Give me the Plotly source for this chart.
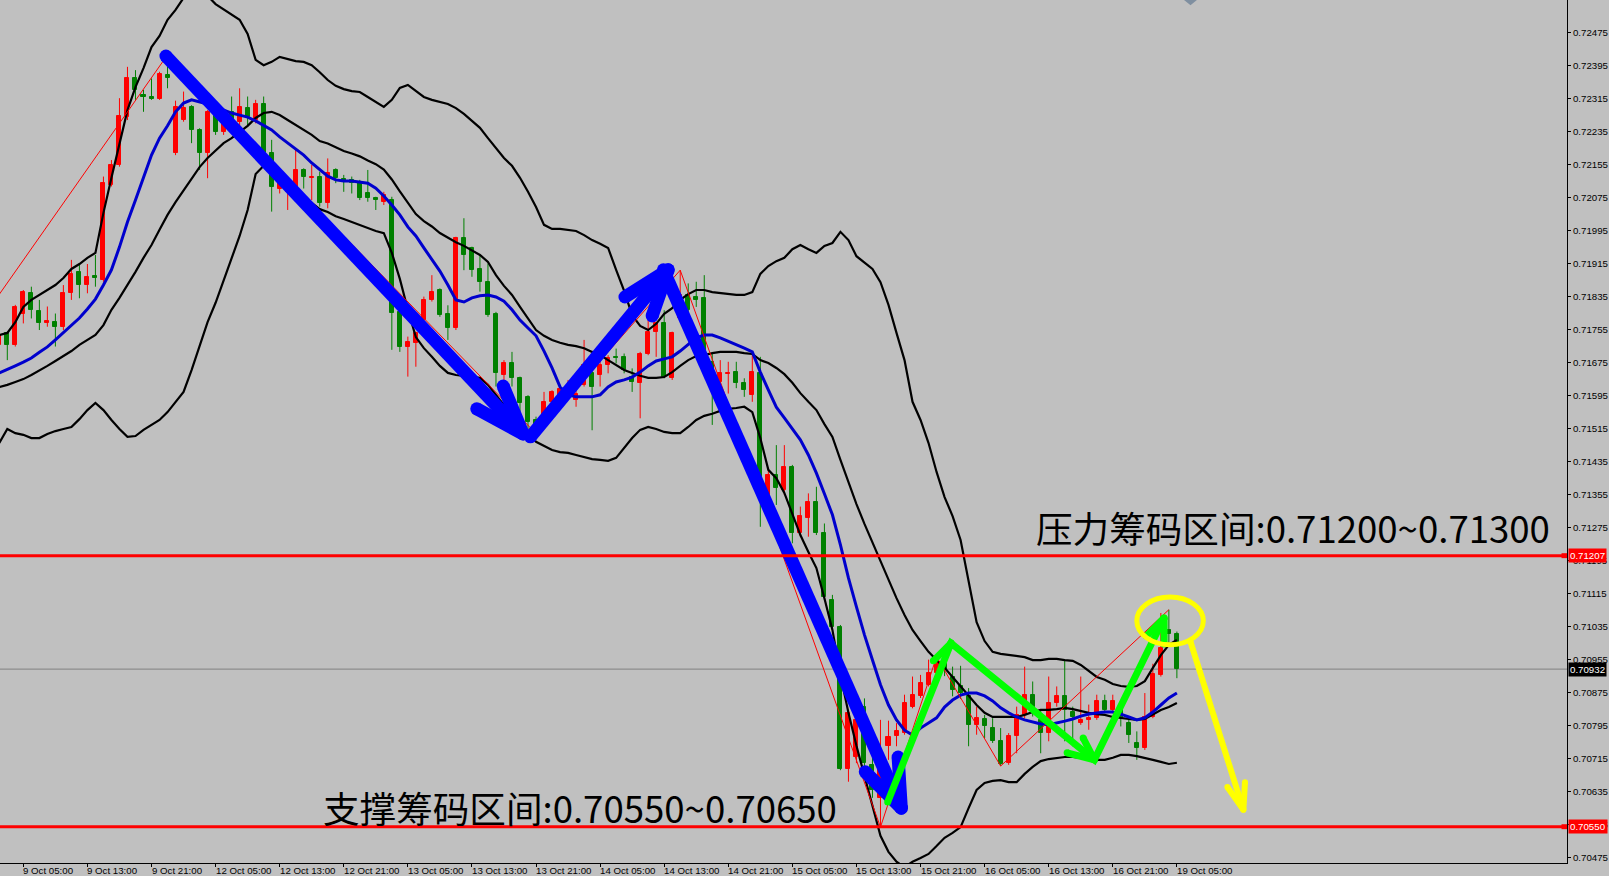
import plotly.graph_objects as go

# ---------------- candle data (H1 bars, index 0 = 9 Oct 02:00) ----------------
opens = [0.71718,0.71746,0.71718,0.71794,0.71843,0.71801,0.71770,0.71774,0.71762,0.71843,
 0.71895,0.71862,0.71885,0.71875,0.72106,0.72154,0.72271,0.72364,0.72324,0.72320,
 0.72314,0.72372,0.72183,0.72263,0.72295,0.72239,0.72182,0.72275,0.72235,0.72283,
 0.72259,0.72291,0.72263,0.72303,0.72182,0.72097,0.72089,0.72101,0.72142,0.72123,
 0.72126,0.72061,0.72142,0.72119,0.72118,0.72114,0.72085,0.72073,0.72065,0.72069,
 0.71798,0.71713,0.71722,0.71778,0.71827,0.71851,0.71794,0.71758,0.71976,0.71952,
 0.71903,0.71871,0.71794,0.71645,0.71673,0.71637,0.71592,0.71536,0.71548,0.71580,
 0.71592,0.71600,0.71584,0.71621,0.71649,0.71645,0.71669,0.71689,0.71689,0.71641,
 0.71625,0.71697,0.71750,0.71770,0.71637,0.71782,0.71839,0.71835,0.71831,0.71677,
 0.71629,0.71647,0.71653,0.71625,0.71596,0.71649,0.71354,0.71403,0.71366,0.71423,
 0.71261,0.71298,0.71338,0.71261,0.71100,0.71035,0.70691,0.70720,0.70841,0.70700,
 0.70620,0.70745,0.70769,0.70777,0.70841,0.70866,0.70894,0.70922,0.70950,0.70914,
 0.70890,0.70866,0.70797,0.70811,0.70789,0.70757,0.70704,0.70769,0.70821,0.70870,
 0.70809,0.70777,0.70850,0.70867,0.70829,0.70801,0.70809,0.70813,0.70854,0.70833,
 0.70833,0.70801,0.70754,0.70741,0.70817,0.70918,0.71027,0.71018]

highs = [0.71746,0.71750,0.71815,0.71851,0.71859,0.71827,0.71811,0.71794,0.71863,0.71924,
 0.71916,0.71914,0.71936,0.72126,0.72166,0.72316,0.72392,0.72384,0.72336,0.72364,
 0.72380,0.72421,0.72310,0.72332,0.72299,0.72243,0.72287,0.72279,0.72287,0.72320,
 0.72340,0.72320,0.72312,0.72320,0.72215,0.72118,0.72114,0.72194,0.72146,0.72154,
 0.72138,0.72170,0.72146,0.72130,0.72126,0.72118,0.72142,0.72077,0.72089,0.72077,
 0.71810,0.71738,0.71750,0.71835,0.71887,0.71855,0.71814,0.71980,0.72025,0.71956,
 0.71936,0.71915,0.71798,0.71681,0.71701,0.71641,0.71596,0.71544,0.71604,0.71608,
 0.71621,0.71633,0.71617,0.71730,0.71665,0.71681,0.71693,0.71709,0.71697,0.71661,
 0.71701,0.71778,0.71774,0.71802,0.71750,0.71899,0.71867,0.71871,0.71887,0.71697,
 0.71681,0.71677,0.71677,0.71637,0.71697,0.71689,0.71415,0.71475,0.71475,0.71427,
 0.71326,0.71358,0.71374,0.71285,0.71112,0.71039,0.70833,0.70825,0.70861,0.70740,
 0.70809,0.70807,0.70801,0.70870,0.70914,0.70918,0.70955,0.70962,0.70958,0.70938,
 0.70940,0.70886,0.70841,0.70821,0.70813,0.70789,0.70777,0.70841,0.70938,0.70902,
 0.70833,0.70914,0.70890,0.70955,0.70841,0.70914,0.70846,0.70870,0.70870,0.70870,
 0.70850,0.70809,0.70781,0.70874,0.70945,0.71068,0.71076,0.71023]

lows = [0.71714,0.71681,0.71714,0.71770,0.71782,0.71754,0.71762,0.71714,0.71754,0.71827,
 0.71831,0.71843,0.71859,0.71871,0.72102,0.72150,0.72263,0.72312,0.72283,0.72312,
 0.72312,0.72340,0.72178,0.72259,0.72207,0.72142,0.72122,0.72227,0.72227,0.72239,
 0.72247,0.72247,0.72255,0.72178,0.72041,0.72085,0.72045,0.72089,0.72097,0.72069,
 0.72053,0.72049,0.72110,0.72089,0.72085,0.72069,0.72065,0.72045,0.72057,0.71706,
 0.71701,0.71641,0.71665,0.71774,0.71823,0.71786,0.71730,0.71754,0.71899,0.71883,
 0.71847,0.71786,0.71617,0.71617,0.71617,0.71536,0.71511,0.71503,0.71544,0.71576,
 0.71584,0.71592,0.71568,0.71617,0.71511,0.71617,0.71649,0.71673,0.71649,0.71604,
 0.71540,0.71693,0.71689,0.71637,0.71633,0.71778,0.71794,0.71810,0.71681,0.71524,
 0.71613,0.71600,0.71613,0.71592,0.71580,0.71277,0.71338,0.71330,0.71354,0.71237,
 0.71253,0.71253,0.71257,0.71100,0.71027,0.70687,0.70659,0.70704,0.70691,0.70620,
 0.70549,0.70712,0.70745,0.70773,0.70837,0.70862,0.70890,0.70915,0.70915,0.70866,
 0.70860,0.70745,0.70773,0.70765,0.70753,0.70697,0.70700,0.70728,0.70813,0.70817,
 0.70728,0.70757,0.70841,0.70757,0.70745,0.70797,0.70785,0.70809,0.70825,0.70825,
 0.70793,0.70753,0.70712,0.70736,0.70813,0.70914,0.70987,0.70910]

closes = [0.71742,0.71718,0.71811,0.71845,0.71803,0.71770,0.71777,0.71762,0.71843,0.71891,
 0.71863,0.71882,0.71879,0.72110,0.72154,0.72273,0.72364,0.72336,0.72320,0.72314,
 0.72375,0.72364,0.72295,0.72291,0.72239,0.72182,0.72283,0.72235,0.72263,0.72259,
 0.72295,0.72271,0.72303,0.72182,0.72101,0.72110,0.72101,0.72142,0.72126,0.72126,
 0.72061,0.72134,0.72122,0.72114,0.72110,0.72073,0.72073,0.72069,0.72081,0.71795,
 0.71713,0.71726,0.71746,0.71827,0.71847,0.71790,0.71758,0.71976,0.71936,0.71899,
 0.71871,0.71790,0.71649,0.71673,0.71637,0.71576,0.71532,0.71520,0.71580,0.71604,
 0.71612,0.71617,0.71600,0.71669,0.71617,0.71669,0.71685,0.71685,0.71657,0.71629,
 0.71697,0.71750,0.71770,0.71641,0.71746,0.71839,0.71802,0.71827,0.71689,0.71633,
 0.71649,0.71651,0.71625,0.71609,0.71653,0.71370,0.71403,0.71370,0.71423,0.71261,
 0.71302,0.71338,0.71261,0.71108,0.71035,0.70691,0.70825,0.70809,0.70704,0.70640,
 0.70720,0.70767,0.70781,0.70850,0.70870,0.70898,0.70922,0.70950,0.70930,0.70882,
 0.70875,0.70797,0.70813,0.70793,0.70757,0.70703,0.70769,0.70821,0.70870,0.70841,
 0.70777,0.70850,0.70866,0.70833,0.70817,0.70809,0.70813,0.70854,0.70833,0.70854,
 0.70813,0.70773,0.70741,0.70817,0.70920,0.70983,0.71018,0.70932]

# ---------------- indicators (read per bar) ----------------
upper_band = [0.71742,0.71747,0.71773,0.71810,0.71827,0.71839,0.71849,0.71863,0.71880,0.71902,
 0.71914,0.71929,0.71941,0.72038,0.72123,0.72207,0.72287,0.72343,0.72389,0.72440,
 0.72467,0.72506,0.72530,0.72559,0.72583,0.72588,0.72564,0.72544,0.72532,0.72520,
 0.72506,0.72472,0.72409,0.72396,0.72404,0.72416,0.72411,0.72406,0.72404,0.72396,
 0.72379,0.72360,0.72346,0.72338,0.72333,0.72331,0.72319,0.72307,0.72295,0.72312,
 0.72341,0.72348,0.72333,0.72319,0.72312,0.72307,0.72302,0.72292,0.72278,0.72261,
 0.72244,0.72219,0.72195,0.72171,0.72152,0.72123,0.72089,0.72052,0.72009,0.71999,
 0.71999,0.71997,0.71994,0.71984,0.71972,0.71963,0.71953,0.71900,0.71849,0.71790,
 0.71764,0.71754,0.71769,0.71793,0.71807,0.71827,0.71841,0.71851,0.71851,0.71846,
 0.71844,0.71841,0.71839,0.71839,0.71846,0.71890,0.71909,0.71921,0.71929,0.71950,
 0.71960,0.71950,0.71941,0.71958,0.71965,0.71992,0.71972,0.71933,0.71917,0.71902,
 0.71870,0.71815,0.71747,0.71681,0.71580,0.71536,0.71480,0.71410,0.71349,0.71303,
 0.71245,0.71148,0.71046,0.71000,0.70974,0.70969,0.70966,0.70964,0.70961,0.70954,
 0.70954,0.70957,0.70957,0.70954,0.70952,0.70942,0.70928,0.70913,0.70906,0.70896,
 0.70891,0.70889,0.70891,0.70903,0.70935,0.70966,0.70991,0.71003]

middle_band = [0.71616,0.71621,0.71628,0.71635,0.71645,0.71655,0.71667,0.71679,0.71691,0.71703,
 0.71718,0.71730,0.71742,0.71766,0.71803,0.71832,0.71863,0.71895,0.71929,0.71960,
 0.71997,0.72033,0.72064,0.72093,0.72123,0.72149,0.72171,0.72190,0.72207,0.72219,
 0.72234,0.72249,0.72268,0.72280,0.72283,0.72275,0.72263,0.72251,0.72241,0.72227,
 0.72212,0.72206,0.72197,0.72188,0.72182,0.72175,0.72165,0.72156,0.72143,0.72119,
 0.72090,0.72062,0.72035,0.72018,0.72005,0.71989,0.71977,0.71967,0.71958,0.71948,
 0.71936,0.71919,0.71887,0.71861,0.71839,0.71810,0.71783,0.71754,0.71740,0.71730,
 0.71723,0.71718,0.71715,0.71710,0.71701,0.71693,0.71681,0.71669,0.71657,0.71650,
 0.71643,0.71638,0.71638,0.71640,0.71652,0.71667,0.71681,0.71691,0.71693,0.71698,
 0.71701,0.71701,0.71701,0.71698,0.71696,0.71681,0.71674,0.71662,0.71647,0.71626,
 0.71601,0.71580,0.71560,0.71526,0.71495,0.71439,0.71383,0.71332,0.71284,0.71238,
 0.71194,0.71148,0.71104,0.71063,0.71027,0.71000,0.70974,0.70954,0.70935,0.70913,
 0.70891,0.70867,0.70845,0.70826,0.70816,0.70816,0.70816,0.70816,0.70821,0.70828,
 0.70833,0.70833,0.70835,0.70838,0.70835,0.70830,0.70826,0.70823,0.70821,0.70816,
 0.70814,0.70811,0.70809,0.70811,0.70823,0.70833,0.70840,0.70850]

lower_band = [0.71480,0.71514,0.71504,0.71500,0.71492,0.71492,0.71502,0.71509,0.71514,0.71519,
 0.71538,0.71560,0.71577,0.71560,0.71536,0.71514,0.71495,0.71497,0.71512,0.71524,
 0.71536,0.71555,0.71580,0.71604,0.71657,0.71713,0.71773,0.71820,0.71875,0.71929,
 0.71982,0.72045,0.72132,0.72152,0.72142,0.72123,0.72103,0.72089,0.72074,0.72062,
 0.72047,0.72040,0.72030,0.72023,0.72016,0.72009,0.72001,0.71994,0.71989,0.71941,
 0.71878,0.71803,0.71737,0.71710,0.71689,0.71667,0.71650,0.71645,0.71643,0.71640,
 0.71638,0.71621,0.71597,0.71572,0.71553,0.71526,0.71502,0.71483,0.71473,0.71463,
 0.71458,0.71456,0.71451,0.71446,0.71441,0.71439,0.71437,0.71444,0.71468,0.71492,
 0.71512,0.71519,0.71514,0.71507,0.71504,0.71504,0.71519,0.71536,0.71546,0.71551,
 0.71558,0.71563,0.71565,0.71568,0.71555,0.71492,0.71415,0.71395,0.71359,0.71308,
 0.71257,0.71216,0.71177,0.71104,0.71027,0.70918,0.70826,0.70746,0.70673,0.70595,
 0.70528,0.70489,0.70465,0.70452,0.70465,0.70474,0.70484,0.70503,0.70523,0.70535,
 0.70549,0.70595,0.70639,0.70656,0.70661,0.70663,0.70658,0.70658,0.70678,0.70695,
 0.70709,0.70714,0.70717,0.70719,0.70719,0.70717,0.70714,0.70712,0.70712,0.70717,
 0.70724,0.70724,0.70721,0.70717,0.70712,0.70707,0.70702,0.70705]

ma_blue = [0.71650,0.71658,0.71667,0.71676,0.71686,0.71700,0.71713,0.71730,0.71747,0.71765,
 0.71783,0.71805,0.71829,0.71863,0.71900,0.71955,0.72016,0.72069,0.72125,0.72178,
 0.72219,0.72249,0.72283,0.72304,0.72312,0.72307,0.72302,0.72295,0.72287,0.72280,
 0.72275,0.72270,0.72261,0.72251,0.72239,0.72222,0.72207,0.72193,0.72178,0.72159,
 0.72142,0.72127,0.72118,0.72115,0.72115,0.72113,0.72110,0.72098,0.72079,0.72057,
 0.72033,0.72004,0.71982,0.71953,0.71924,0.71897,0.71863,0.71827,0.71822,0.71832,
 0.71837,0.71839,0.71834,0.71824,0.71803,0.71778,0.71759,0.71740,0.71703,0.71662,
 0.71616,0.71597,0.71592,0.71592,0.71592,0.71597,0.71616,0.71628,0.71633,0.71640,
 0.71652,0.71667,0.71679,0.71684,0.71689,0.71703,0.71718,0.71735,0.71742,0.71742,
 0.71735,0.71727,0.71718,0.71710,0.71701,0.71652,0.71609,0.71567,0.71541,0.71514,
 0.71488,0.71451,0.71407,0.71357,0.71306,0.71233,0.71153,0.71083,0.71015,0.70954,
 0.70894,0.70845,0.70809,0.70784,0.70772,0.70789,0.70801,0.70814,0.70840,0.70857,
 0.70869,0.70874,0.70874,0.70867,0.70855,0.70838,0.70826,0.70816,0.70809,0.70804,
 0.70799,0.70797,0.70801,0.70806,0.70811,0.70818,0.70823,0.70826,0.70828,0.70828,
 0.70823,0.70816,0.70809,0.70814,0.70828,0.70845,0.70862,0.70874]

zigzag_bar = [-4, 21, 67, 85, 110, 117, 125, 146]
zigzag_price = [0.71730, 0.72421, 0.71503, 0.71899, 0.70549, 0.70962, 0.70697, 0.71076]

# ---------------- axes ----------------
time_tick_bars = [3, 11, 19, 27, 35, 43, 51, 59, 67, 75, 83, 91, 99, 107, 115, 123, 131, 139, 147]
time_tick_labels = ["9 Oct 05:00", "9 Oct 13:00", "9 Oct 21:00", "12 Oct 05:00", "12 Oct 13:00",
                    "12 Oct 21:00", "13 Oct 05:00", "13 Oct 13:00", "13 Oct 21:00", "14 Oct 05:00",
                    "14 Oct 13:00", "14 Oct 21:00", "15 Oct 05:00", "15 Oct 13:00", "15 Oct 21:00",
                    "16 Oct 05:00", "16 Oct 13:00", "16 Oct 21:00", "19 Oct 05:00"]
price_ticks = [0.72475, 0.72395, 0.72315, 0.72235, 0.72155, 0.72075, 0.71995, 0.71915, 0.71835,
               0.71755, 0.71675, 0.71595, 0.71515, 0.71435, 0.71355, 0.71275, 0.71195, 0.71115,
               0.71035, 0.70955, 0.70875, 0.70795, 0.70715, 0.70635, 0.70555, 0.70475]

resistance_level = 0.71207
support_level = 0.70550
bid_price = 0.70932
resistance_text = "压力筹码区间:0.71200~0.71300"
support_text = "支撑筹码区间:0.70550~0.70650"
resistance_text_pos = (129.2, 0.71276)
support_text_pos = (40.2, 0.70597)

# hand-drawn objects, anchored in (bar index, price)
blue_arrows = [
    ([20.8, 65.4], [0.72418, 0.71502], [59.6, 65.4, 62.9], [0.71563, 0.71502, 0.71618]),
    ([66.3, 83.5], [0.71495, 0.71900], [78.1, 83.5, 81.5], [0.71834, 0.71900, 0.71788]),
    ([82.9, 112.6], [0.71900, 0.70595], [108.1, 112.6, 112.2], [0.70683, 0.70595, 0.70719]),
]
green_path_bar = [110.9, 118.8, 136.7, 145.4]
green_path_price = [0.70610, 0.70995, 0.70712, 0.71056]
green_heads = [
    ([116.6, 118.8], [0.70952, 0.70995]),
    ([133.3, 136.7, 135.3], [0.70729, 0.70712, 0.70765]),
    ([143.2, 145.4, 145.4], [0.71012, 0.71056, 0.70993]),
]
yellow_shaft = ([148.7, 155.3], [0.70998, 0.70591])
yellow_head = ([153.3, 155.3, 155.5], [0.70646, 0.70591, 0.70658])
yellow_ellipse = (142.0, 150.3, 0.70991, 0.71107)

# ---------------- style ----------------
BG = "#C0C0C0"
UP = "#FF0000"
DOWN = "#008000"
TICK_FONT = dict(family="Liberation Sans, Arial, sans-serif", size=9.7, color="black")
X_RANGE = [0.087, 195.7]
Y_RANGE = [0.70462, 0.72554]

fig = go.Figure()
bars = list(range(len(opens)))
up_ids = [i for i in bars if closes[i] >= opens[i]]
dn_ids = [i for i in bars if closes[i] < opens[i]]

for ids, color in ((up_ids, UP), (dn_ids, DOWN)):
    wx, wy = [], []
    for i in ids:
        wx += [i, i, None]
        wy += [lows[i], highs[i], None]
    fig.add_trace(go.Scatter(x=wx, y=wy, mode="lines", line=dict(color=color, width=1),
                             hoverinfo="skip", showlegend=False))
    fig.add_trace(go.Bar(x=ids, base=[min(opens[i], closes[i]) for i in ids],
                         y=[abs(closes[i] - opens[i]) for i in ids], width=0.5,
                         marker=dict(color=color, line=dict(color=color, width=1)),
                         hoverinfo="skip", showlegend=False))

for band in (upper_band, middle_band, lower_band):
    fig.add_trace(go.Scatter(x=bars, y=band, mode="lines", line=dict(color="black", width=2.2),
                             hoverinfo="skip", showlegend=False))
fig.add_trace(go.Scatter(x=bars, y=ma_blue, mode="lines", line=dict(color="#0000CD", width=3),
                         hoverinfo="skip", showlegend=False))
fig.add_trace(go.Scatter(x=zigzag_bar, y=zigzag_price, mode="lines", line=dict(color="#FF0000", width=1),
                         hoverinfo="skip", showlegend=False))


def stroke(xs, ys, color, width):
    fig.add_trace(go.Scatter(x=xs, y=ys, mode="lines+markers",
                             line=dict(color=color, width=width),
                             marker=dict(color=color, size=width, line=dict(width=0)),
                             hoverinfo="skip", showlegend=False))


for sx, sy, hx, hy in blue_arrows:
    stroke(sx, sy, "#0000FF", 13)
    stroke(hx, hy, "#0000FF", 13)
stroke(green_path_bar, green_path_price, "#00FF00", 7)
for hx, hy in green_heads:
    stroke(hx, hy, "#00FF00", 7)
stroke(yellow_shaft[0], yellow_shaft[1], "#FFFF00", 6)
stroke(yellow_head[0], yellow_head[1], "#FFFF00", 6)

shapes = [
    dict(type="line", xref="paper", x0=0, x1=1, yref="y", y0=bid_price, y1=bid_price,
         line=dict(color="#808080", width=1), layer="below"),
    dict(type="line", xref="paper", x0=0, x1=1, yref="y", y0=resistance_level, y1=resistance_level,
         line=dict(color="#FF0000", width=3), layer="above"),
    dict(type="line", xref="paper", x0=0, x1=1, yref="y", y0=support_level, y1=support_level,
         line=dict(color="#FF0000", width=3), layer="above"),
    dict(type="circle", xref="x", yref="y", x0=yellow_ellipse[0], x1=yellow_ellipse[1],
         y0=yellow_ellipse[2], y1=yellow_ellipse[3], line=dict(color="#FFFF00", width=5),
         layer="above"),
    dict(type="path", xref="x", yref="paper", path="M 147.9 1 L 149.5 1 L 148.7 0.994 Z",
         fillcolor="#7F8FA0", line=dict(width=0), layer="above"),
]
for lvl in (resistance_level, support_level):
    shapes.append(dict(type="rect", xref="paper", x0=0.9965, x1=1.0, yref="y",
                       y0=lvl - 0.00006, y1=lvl + 0.00006, fillcolor="#FF0000",
                       line=dict(width=0), layer="above"))

annotations = []
for b, lab in zip(time_tick_bars, time_tick_labels):
    annotations.append(dict(x=b, xref="x", y=0, yref="paper", text=lab, showarrow=False,
                            xanchor="left", yanchor="top", xshift=-2, font=TICK_FONT))
for lvl, bg in ((resistance_level, "#FF0000"), (support_level, "#FF0000"), (bid_price, "#000000")):
    annotations.append(dict(x=1, xref="paper", y=lvl, yref="y", text=f"{lvl:.5f}", showarrow=False,
                            xanchor="left", yanchor="middle", xshift=1, bgcolor=bg, borderpad=1,
                            font=dict(family=TICK_FONT["family"], size=9.7, color="white")))
cjk_font = dict(family="Noto Sans CJK SC, Noto Sans, sans-serif", size=36.6, color="black")
annotations.append(dict(x=resistance_text_pos[0], y=resistance_text_pos[1], xref="x", yref="y",
                        text=resistance_text, showarrow=False, xanchor="left", yanchor="middle",
                        font=cjk_font))
annotations.append(dict(x=support_text_pos[0], y=support_text_pos[1], xref="x", yref="y",
                        text=support_text, showarrow=False, xanchor="left", yanchor="middle",
                        font=cjk_font))

fig.update_layout(
    width=1609, height=876,
    margin=dict(l=0, r=42, t=0, b=13, pad=0),
    paper_bgcolor=BG, plot_bgcolor=BG,
    barmode="overlay", bargap=0,
    showlegend=False, hovermode=False,
    shapes=shapes, annotations=annotations,
    xaxis=dict(range=X_RANGE, showgrid=False, zeroline=False, showline=True, linecolor="black",
               linewidth=1, ticks="outside", tickvals=time_tick_bars, ticklen=3, tickcolor="black",
               showticklabels=False, rangeslider=dict(visible=False), automargin=False,
               fixedrange=True),
    yaxis=dict(range=Y_RANGE, side="right", showgrid=False, zeroline=False, showline=True,
               linecolor="black", linewidth=1, ticks="outside", ticklen=3, tickcolor="black",
               tickvals=price_ticks, ticktext=[f"{p:.5f}" for p in price_ticks],
               tickfont=TICK_FONT, automargin=False, fixedrange=True),
)

fig.write_html("out.html", config={"displayModeBar": False},
               post_script="document.body.style.margin='0';document.body.style.overflow='hidden';")
